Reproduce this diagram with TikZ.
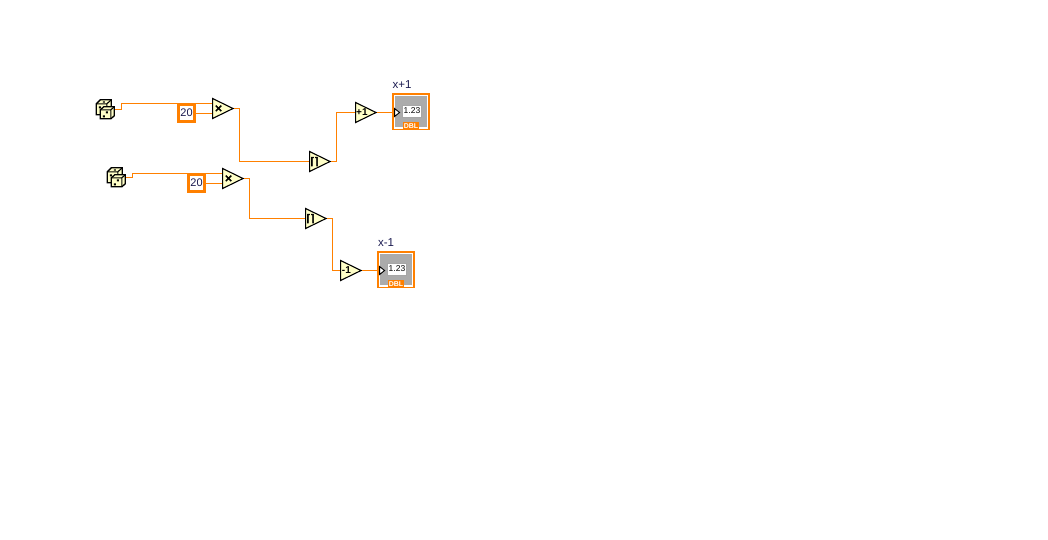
\documentclass[tikz,border=0pt]{standalone}
\usepackage{fontspec}
\setmainfont{Liberation Sans}
\newfontfamily\symfont[FakeBold=6]{DejaVu Sans}
\usetikzlibrary{shapes.geometric}
\definecolor{wireor}{HTML}{FF8000}
\definecolor{cream}{HTML}{FFFFC8}
\definecolor{indgray}{HTML}{ABABAB}
\definecolor{labelnavy}{HTML}{1A1A50}
\tikzset{
  x=1pt,y=-1pt,
  wire/.style={draw=wireor,line width=1pt},
  prim/.style={shape=isosceles triangle,isosceles triangle stretches,shape border rotate=0,anchor=lower side,
    minimum width=20pt,minimum height=20.5pt,inner sep=0pt,draw=black,line width=1.1pt,fill=cream,
    font=\bfseries\fontsize{10}{10}\selectfont,text=black},
  primsym/.style={prim,font=\symfont\fontsize{10}{10}\selectfont},
  constbox/.style={draw=wireor,line width=2.6pt,fill=white,minimum width=16pt,minimum height=17pt,
    inner sep=0pt,font=\fontsize{11}{12}\selectfont,text=labelnavy},
  outerbox/.style={draw=wireor,line width=1.6pt,fill=white,minimum width=36.4pt,minimum height=35.6pt,inner sep=0pt},
  graybox/.style={fill=indgray,minimum width=31.5pt,minimum height=31pt,inner sep=0pt},
  dispbox/.style={draw=gray!70,line width=.8pt,fill=white,minimum width=19pt,minimum height=12pt,inner sep=0pt,
    font=\fontsize{8.5}{9}\selectfont,text=black},
  dblbox/.style={fill=wireor,minimum width=16pt,minimum height=8pt,inner sep=0pt,
    font=\bfseries\fontsize{7}{7}\selectfont,text=white},
  tick/.style={shape=isosceles triangle,isosceles triangle stretches,minimum width=8pt,minimum height=5pt,
    inner sep=0pt,draw=black,line width=.9pt,fill=white},
  tlabel/.style={inner sep=0pt,font=\fontsize{11.5}{12}\selectfont,text=labelnavy},
  diceanchor/.style={minimum width=19pt,minimum height=20pt,inner sep=0pt},
  dieshape/.style={draw=black,line width=1.3pt,fill=cream,line join=miter},
  dice/.pic={
    % back die
    \path[dieshape] (0.5,4.5)--(4.5,.5)--(15.5,.5)--(15.5,8)--(9.5,15.5)--(.5,15.5)--cycle;
    \draw[black,line width=1.1pt] (.5,4.5)--(11,4.5)--(15.5,.5) (11,4.5)--(11,10);
    \fill (3,7) rectangle +(2,2) (7,10) rectangle +(2,2) (7,2) rectangle +(2,1.4);
    % front die
    \path[dieshape] (4.5,10.5)--(8,7.5)--(18.5,7.5)--(18.5,16.5)--(15,19.5)--(4.5,19.5)--cycle;
    \draw[black,line width=1.1pt] (4.5,10.5)--(15,10.5)--(18.5,7.5) (15,10.5)--(15,19.5);
    \fill (10,12) rectangle +(2,2) (7,16) rectangle +(2,2);
  },
}
\begin{document}
\begin{tikzpicture}
\useasboundingbox (0,0) rectangle (1048,539);
% first chain
\node[diceanchor] (dA) at (105.5,109.5) {};
\pic at (dA.north west) {dice};
\node[constbox] (cA) at (186.5,113) {20};
\node[primsym] (mA) at (212,108.5) {×};
\node[primsym] (uA) at (309,161.5) {⌈⌉};
\node[prim] (pA) at (355,112.5) {+1};
\node[outerbox] (iA) at (411,111.5) {};
\node[graybox] (gA) at (411,111.5) {};
\node[dispbox] (vA) at (412,111) {1.23};
\node[dblbox] (bA) at (411,126) {DBL};
\node[tick] (tA) at (396.5,112.5) {};
\node[tlabel] (lA) at (402,85) {x+1};
% second chain
\node[diceanchor] (dB) at (116.5,177.5) {};
\pic at (dB.north west) {dice};
\node[constbox] (cB) at (196.5,183) {20};
\node[primsym] (mB) at (222,178.5) {×};
\node[primsym] (uB) at (305,218.5) {⌈⌉};
\node[prim] (sB) at (340,270.5) {-1};
\node[outerbox] (iB) at (396,269.5) {};
\node[graybox] (gB) at (396,269.5) {};
\node[dispbox] (vB) at (397,269) {1.23};
\node[dblbox] (bB) at (396,284) {DBL};
\node[tick] (tB) at (381.5,270.5) {};
\node[tlabel] (lB) at (386,243) {x-1};
% wires
\coordinate (aIn) at (212,103.5);
\coordinate (aIn2) at (212,113.5);
\coordinate (bIn) at (222,173.5);
\coordinate (bIn2) at (222,183.5);
\draw[wire] (dA.east) -- (121.5,109.5) |- (aIn);
\draw[wire] (cA.east |- aIn2) -- (aIn2);
\draw[wire] (mA.apex) -| (239.5,161.5) -- (uA.lower side);
\draw[wire] (uA.apex) -| (336.5,112.5) -- (pA.lower side);
\draw[wire] (pA.apex) -- (tA.lower side);
\draw[wire] (dB.east) -- (132.5,177.5) |- (bIn);
\draw[wire] (cB.east |- bIn2) -- (bIn2);
\draw[wire] (mB.apex) -| (249.5,218.5) -- (uB.lower side);
\draw[wire] (uB.apex) -| (332.5,270.5) -- (sB.lower side);
\draw[wire] (sB.apex) -- (tB.lower side);
\end{tikzpicture}
\end{document}
